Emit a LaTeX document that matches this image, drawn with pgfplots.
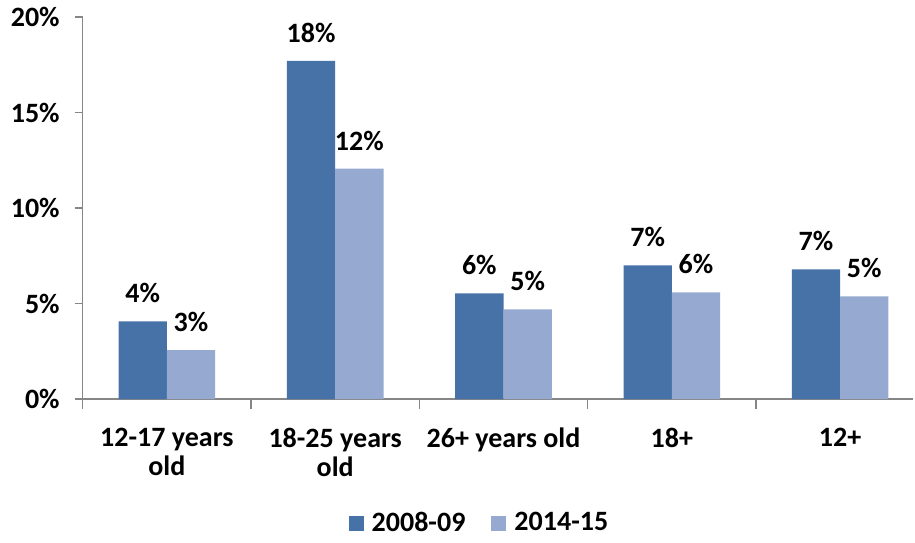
\documentclass[border=0pt]{standalone}
\usepackage{pgfplots}
\pgfplotsset{compat=1.18}
\usepackage{fontspec}
\setmainfont{Carlito}
\definecolor{darkbar}{RGB}{70,114,168}
\definecolor{lightbar}{RGB}{149,169,209}
\definecolor{axisgray}{RGB}{134,134,134}
\newcommand{\lbl}{\bfseries\fontsize{14}{14.5}\selectfont}

\begin{document}
\begin{tikzpicture}
\begin{axis}[
    scale only axis,
    width=415pt, height=191pt,
    ybar=0pt, bar width=24.15pt,
    xmin=-0.5, xmax=4.433,
    ymin=0, ymax=20,
    axis x line*=bottom, axis y line*=left,
    axis line style={axisgray, line width=0.7pt},
    tick align=outside,
    major tick length=4pt, minor tick length=5pt,
    tick style={axisgray, line width=0.7pt},
    xtick={0,1,2,3,4},
    major x tick style={draw=none},
    minor xtick={-0.5,0.5,1.5,2.5,3.5},
    xticklabels={{12-17 years\\old},{18-25 years\\old},{26+ years old},{18+},{12+}},
    xticklabel style={align=center, font=\lbl, text=black, yshift=-7pt},
    ytick={0,5,10,15,20},
    yticklabels={0\%,5\%,10\%,15\%,20\%},
    yticklabel style={font=\lbl, text=black, xshift=-4pt},
    nodes near coords={\pgfmathprintnumber[fixed,precision=0]{\pgfplotspointmeta}\%},
    nodes near coords style={font=\lbl, text=black, inner sep=0pt, yshift=9pt,
        /pgf/number format/assume math mode=true},
    legend style={at={(0.479,-0.325)}, anchor=center, draw=none, font=\lbl,
        legend columns=2, /tikz/every even column/.append style={column sep=11pt}},
]
\addplot[fill=darkbar, draw=none,
    legend image code/.code={\fill[darkbar] (0pt,-3.75pt) rectangle (7.5pt,3.75pt);
        \path (9.5pt,0pt);}]
    coordinates {(0,4.07) (1,17.7) (2,5.53) (3,7.0) (4,6.79)};
\addplot[fill=lightbar, draw=none,
    legend image code/.code={\fill[lightbar] (0pt,-3.75pt) rectangle (7.5pt,3.75pt);
        \path (9.5pt,0pt);}]
    coordinates {(0,2.56) (1,12.06) (2,4.7) (3,5.59) (4,5.38)};
\legend{2008-09, 2014-15}
\end{axis}
\path (current axis.south west) ++(-41.35pt,-69pt) coordinate (bl);
\path (current axis.north east) ++(1pt,8.5pt) coordinate (tr);
\useasboundingbox (bl) rectangle (tr);
\end{tikzpicture}
\end{document}
